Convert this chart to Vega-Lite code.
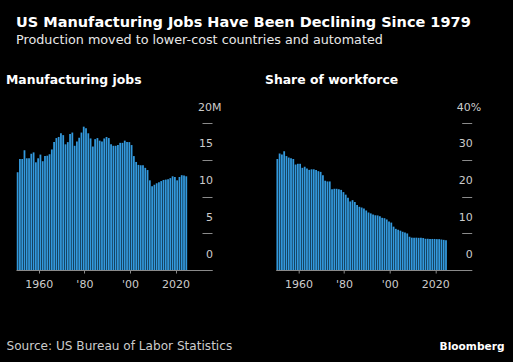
{
  "$schema": "https://vega.github.io/schema/vega-lite/v6.json",
  "background": "#000000",
  "padding": {"left": 6, "top": 15, "right": 9, "bottom": 12},
  "title": {
    "text": "US Manufacturing Jobs Have Been Declining Since 1979",
    "subtitle": "Production moved to lower-cost countries and automated",
    "anchor": "start",
    "frame": "group",
    "color": "#ffffff",
    "font": "DejaVu Sans",
    "fontSize": 14.5,
    "fontWeight": "bold",
    "subtitleColor": "#e8e8e8",
    "subtitleFont": "DejaVu Sans",
    "subtitleFontSize": 12.75,
    "subtitlePadding": 3,
    "offset": 26
  },
  "datasets": {
    "jobs": [
      {"year": 1950, "jobs": 13.3}, {"year": 1951, "jobs": 15.1}, {"year": 1952, "jobs": 15.1}, {"year": 1953, "jobs": 16.3},
      {"year": 1954, "jobs": 15.2}, {"year": 1955, "jobs": 15.2}, {"year": 1956, "jobs": 15.8}, {"year": 1957, "jobs": 16.0},
      {"year": 1958, "jobs": 14.65}, {"year": 1959, "jobs": 15.2}, {"year": 1960, "jobs": 15.7}, {"year": 1961, "jobs": 14.8},
      {"year": 1962, "jobs": 15.5}, {"year": 1963, "jobs": 15.55}, {"year": 1964, "jobs": 15.75}, {"year": 1965, "jobs": 16.4},
      {"year": 1966, "jobs": 17.4}, {"year": 1967, "jobs": 17.95}, {"year": 1968, "jobs": 18.1}, {"year": 1969, "jobs": 18.6},
      {"year": 1970, "jobs": 18.35}, {"year": 1971, "jobs": 17.1}, {"year": 1972, "jobs": 17.4}, {"year": 1973, "jobs": 18.5},
      {"year": 1974, "jobs": 18.7}, {"year": 1975, "jobs": 16.9}, {"year": 1976, "jobs": 17.5}, {"year": 1977, "jobs": 18.0},
      {"year": 1978, "jobs": 18.7}, {"year": 1979, "jobs": 19.5}, {"year": 1980, "jobs": 19.3}, {"year": 1981, "jobs": 18.6},
      {"year": 1982, "jobs": 17.9}, {"year": 1983, "jobs": 16.8}, {"year": 1984, "jobs": 17.8}, {"year": 1985, "jobs": 17.95},
      {"year": 1986, "jobs": 17.6}, {"year": 1987, "jobs": 17.5}, {"year": 1988, "jobs": 17.9}, {"year": 1989, "jobs": 18.1},
      {"year": 1990, "jobs": 17.95}, {"year": 1991, "jobs": 17.1}, {"year": 1992, "jobs": 16.9}, {"year": 1993, "jobs": 16.9},
      {"year": 1994, "jobs": 17.0}, {"year": 1995, "jobs": 17.3}, {"year": 1996, "jobs": 17.3}, {"year": 1997, "jobs": 17.6},
      {"year": 1998, "jobs": 17.4}, {"year": 1999, "jobs": 17.4}, {"year": 2000, "jobs": 17.0}, {"year": 2001, "jobs": 15.5},
      {"year": 2002, "jobs": 14.7}, {"year": 2003, "jobs": 14.3}, {"year": 2004, "jobs": 14.25}, {"year": 2005, "jobs": 14.25},
      {"year": 2006, "jobs": 13.9}, {"year": 2007, "jobs": 13.6}, {"year": 2008, "jobs": 12.2}, {"year": 2009, "jobs": 11.4},
      {"year": 2010, "jobs": 11.6}, {"year": 2011, "jobs": 11.8}, {"year": 2012, "jobs": 11.95}, {"year": 2013, "jobs": 12.1},
      {"year": 2014, "jobs": 12.25}, {"year": 2015, "jobs": 12.3}, {"year": 2016, "jobs": 12.35}, {"year": 2017, "jobs": 12.5},
      {"year": 2018, "jobs": 12.75}, {"year": 2019, "jobs": 12.65}, {"year": 2020, "jobs": 12.2}, {"year": 2021, "jobs": 12.65},
      {"year": 2022, "jobs": 12.9}, {"year": 2023, "jobs": 12.85}, {"year": 2024, "jobs": 12.75}
    ],
    "share": [
      {"year": 1950, "share": 30.2}, {"year": 1951, "share": 31.7}, {"year": 1952, "share": 31.4}, {"year": 1953, "share": 32.3},
      {"year": 1954, "share": 31.0}, {"year": 1955, "share": 30.6}, {"year": 1956, "share": 30.4}, {"year": 1957, "share": 30.2},
      {"year": 1958, "share": 28.7}, {"year": 1959, "share": 28.9}, {"year": 1960, "share": 28.9}, {"year": 1961, "share": 27.8},
      {"year": 1962, "share": 28.1}, {"year": 1963, "share": 27.6}, {"year": 1964, "share": 27.25}, {"year": 1965, "share": 27.4},
      {"year": 1966, "share": 27.4}, {"year": 1967, "share": 27.2}, {"year": 1968, "share": 26.9}, {"year": 1969, "share": 26.7},
      {"year": 1970, "share": 25.8}, {"year": 1971, "share": 24.3}, {"year": 1972, "share": 24.1}, {"year": 1973, "share": 24.1},
      {"year": 1974, "share": 22.0}, {"year": 1975, "share": 22.1}, {"year": 1976, "share": 22.1}, {"year": 1977, "share": 22.0},
      {"year": 1978, "share": 21.8}, {"year": 1979, "share": 21.2}, {"year": 1980, "share": 20.5}, {"year": 1981, "share": 19.65},
      {"year": 1982, "share": 18.65}, {"year": 1983, "share": 19.0}, {"year": 1984, "share": 18.5}, {"year": 1985, "share": 17.7},
      {"year": 1986, "share": 17.2}, {"year": 1987, "share": 17.0}, {"year": 1988, "share": 16.75}, {"year": 1989, "share": 16.2},
      {"year": 1990, "share": 15.65}, {"year": 1991, "share": 15.4}, {"year": 1992, "share": 15.1}, {"year": 1993, "share": 14.9},
      {"year": 1994, "share": 14.85}, {"year": 1995, "share": 14.6}, {"year": 1996, "share": 14.2}, {"year": 1997, "share": 14.1},
      {"year": 1998, "share": 13.75}, {"year": 1999, "share": 13.2}, {"year": 2000, "share": 12.9}, {"year": 2001, "share": 11.8},
      {"year": 2002, "share": 11.2}, {"year": 2003, "share": 10.95}, {"year": 2004, "share": 10.7}, {"year": 2005, "share": 10.4},
      {"year": 2006, "share": 10.2}, {"year": 2007, "share": 9.95}, {"year": 2008, "share": 9.05}, {"year": 2009, "share": 8.8},
      {"year": 2010, "share": 8.8}, {"year": 2011, "share": 8.8}, {"year": 2012, "share": 8.75}, {"year": 2013, "share": 8.75},
      {"year": 2014, "share": 8.7}, {"year": 2015, "share": 8.5}, {"year": 2016, "share": 8.5}, {"year": 2017, "share": 8.45},
      {"year": 2018, "share": 8.45}, {"year": 2019, "share": 8.45}, {"year": 2020, "share": 8.4}, {"year": 2021, "share": 8.4},
      {"year": 2022, "share": 8.3}, {"year": 2023, "share": 8.2}, {"year": 2024, "share": 8.1}
    ]
  },
  "bounds": "flush",
  "spacing": 63.7,
  "hconcat": [
    {
      "width": 196,
      "height": 147,
      "data": {"name": "jobs"},
      "title": {"text": "Manufacturing jobs", "anchor": "start", "frame": "group", "dx": -10, "offset": 15, "font": "DejaVu Sans", "fontSize": 12.4, "fontWeight": "bold", "color": "#ffffff"},
      "mark": {"type": "bar", "color": "#3399dd", "binSpacing": 0.5},
      "encoding": {
        "x": {
          "field": "year", "type": "quantitative", "bin": {"binned": true, "step": 1},
          "scale": {"domain": [1950, 2036], "nice": false, "zero": false},
          "axis": {
            "values": [1960, 1980, 2000, 2020], "format": "d",
            "labelExpr": "datum.value == 1980 ? \"'80\" : datum.value == 2000 ? \"'00\" : datum.label",
            "tickSize": 3, "labelPadding": 5, "labelFlush": false,
            "title": "Source: US Bureau of Labor Statistics",
            "titleAnchor": "start", "titleAlign": "left", "titleBaseline": "alphabetic",
            "titleX": -10, "titleY": 79, "titleFont": "DejaVu Sans", "titleFontSize": 12.1, "titleFontWeight": "normal", "titleColor": "#cccccc"
          }
        },
        "y": {
          "field": "jobs", "type": "quantitative",
          "scale": {"domain": [0, 20], "nice": false},
          "axis": {
            "orient": "right", "values": [0, 5, 10, 15, 20], "domain": false,
            "labelExpr": "datum.value == 20 ? '20M' : datum.label",
            "tickSize": -10, "labelAlign": "right", "labelBaseline": "alphabetic",
            "labelOffset": -13,
            "labelPadding": {"condition": {"test": "datum.value == 20", "value": 19}, "value": 10.5},
            "title": null
          }
        }
      }
    },
    {
      "width": 196,
      "height": 147,
      "data": {"name": "share"},
      "title": {"text": "Share of workforce", "anchor": "start", "frame": "group", "dx": -10.7, "offset": 15, "font": "DejaVu Sans", "fontSize": 12.4, "fontWeight": "bold", "color": "#ffffff"},
      "mark": {"type": "bar", "color": "#3399dd", "binSpacing": 0.5},
      "encoding": {
        "x": {
          "field": "year", "type": "quantitative", "bin": {"binned": true, "step": 1},
          "scale": {"domain": [1950, 2036], "nice": false, "zero": false},
          "axis": {
            "values": [1960, 1980, 2000, 2020], "format": "d",
            "labelExpr": "datum.value == 1980 ? \"'80\" : datum.value == 2000 ? \"'00\" : datum.label",
            "tickSize": 3, "labelPadding": 5, "labelFlush": false,
            "title": "Bloomberg",
            "titleAnchor": "end", "titleAlign": "right", "titleBaseline": "alphabetic",
            "titleX": 228.3, "titleY": 79, "titleFont": "DejaVu Sans", "titleFontSize": 10.6, "titleFontWeight": "bold", "titleColor": "#ffffff"
          }
        },
        "y": {
          "field": "share", "type": "quantitative",
          "scale": {"domain": [0, 40], "nice": false},
          "axis": {
            "orient": "right", "values": [0, 10, 20, 30, 40], "domain": false,
            "labelExpr": "datum.value == 40 ? '40%' : datum.label",
            "tickSize": -10, "labelAlign": "right", "labelBaseline": "alphabetic",
            "labelOffset": -13,
            "labelPadding": {"condition": {"test": "datum.value == 40", "value": 19}, "value": 10.5},
            "title": null
          }
        }
      }
    }
  ],
  "config": {
    "view": {"stroke": null},
    "axis": {
      "grid": false,
      "domainColor": "#8a8a8a",
      "tickColor": "#8a8a8a",
      "labelColor": "#cccccc",
      "labelFont": "DejaVu Sans",
      "labelFontSize": 11
    }
  }
}
